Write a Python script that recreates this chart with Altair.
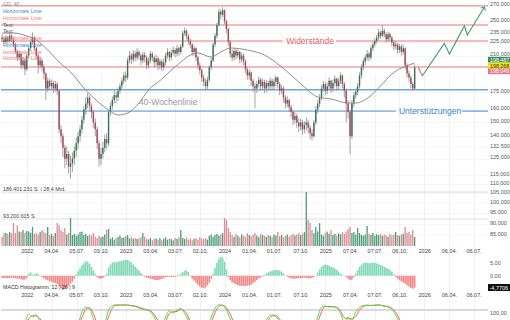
import altair as alt
import pandas as pd

FONT = "Liberation Sans"

# ---------------- weekly candles (first week 2021-10-04) ----------------
first_week = "2021-10-04"
opens = [230,228,225,230,226,232,228,222,215,208,
         212,200,205,196,210,218,225,230,218,210,
         200,205,198,192,178,185,180,183,178,182,
         176,145,140,132,125,128,120,122,125,130,
         135,140,145,152,160,165,170,163,158,150,
         145,135,125,128,132,138,135,158,163,168,
         172,170,176,180,185,190,188,205,210,206,
         212,208,214,210,205,211,208,200,205,212,
         208,203,207,200,204,198,203,210,214,208,
         213,216,212,218,214,220,235,238,232,226,
         222,214,218,208,200,195,188,184,180,186,
         198,205,222,232,245,262,258,264,250,240,
         225,212,208,215,210,214,206,210,204,196,
         190,193,185,180,178,182,186,180,184,178,
         183,180,185,180,184,188,182,176,178,170,
         165,168,162,158,152,155,150,147,150,145,
         148,150,146,142,140,150,160,165,170,178,
         182,176,180,185,178,183,187,180,185,190,
         182,176,165,158,140,165,172,175,180,190,
         198,204,208,212,208,218,222,226,230,236,
         232,238,234,228,234,230,224,220,222,216,
         220,214,218,200,192,188,182,178]
closes = [228,225,230,226,232,228,222,215,208,212,
          200,205,196,210,218,225,230,218,210,200,
          205,198,192,178,185,180,183,178,182,176,
          145,140,132,125,128,120,122,125,130,135,
          140,145,152,160,165,170,163,158,150,145,
          135,125,128,132,138,135,158,163,168,172,
          170,176,180,185,190,188,205,210,206,212,
          208,214,210,205,211,208,200,205,212,208,
          203,207,200,204,198,203,210,214,208,213,
          216,212,218,214,220,235,238,232,226,222,
          214,218,208,200,195,188,184,180,186,198,
          205,222,232,245,262,258,264,250,240,225,
          212,208,215,210,214,206,210,204,196,190,
          193,185,180,178,182,186,180,184,178,183,
          180,185,180,184,188,182,176,178,170,165,
          168,162,158,152,155,150,147,150,145,148,
          150,146,142,140,150,160,165,170,178,182,
          176,180,185,178,183,187,180,185,190,182,
          176,165,158,140,165,172,175,180,190,198,
          204,208,212,208,218,222,226,230,236,232,
          238,234,228,234,230,224,220,222,216,220,
          214,218,200,192,188,182,178,198]
highs = [234,231,233,232,236,234,230,224,217,215,
         213,208,207,212,221,229,236,232,220,212,
         209,207,201,193,188,187,186,185,185,184,
         177,148,142,134,133,130,127,129,133,139,
         143,148,155,163,170,174,172,165,160,153,
         147,137,132,136,141,142,160,166,171,176,
         175,179,183,188,193,194,208,215,213,216,
         215,218,216,212,214,214,210,208,215,214,
         210,211,209,207,206,207,213,218,215,217,
         220,218,222,220,223,238,242,240,234,229,
         224,221,219,210,203,197,191,187,189,200,
         208,224,235,248,266,265,268,265,252,242,
         227,216,218,217,217,215,213,212,206,198,
         196,194,187,183,185,189,188,187,186,186,
         185,188,187,187,190,189,184,181,180,172,
         171,169,164,160,158,157,153,153,152,151,
         154,152,148,145,152,163,168,173,181,185,
         184,183,188,186,186,190,188,188,193,191,
         184,178,168,160,168,175,178,183,193,201,
         207,211,216,214,221,225,229,233,240,238,
         245,241,236,237,236,232,227,226,224,223,
         222,222,219,202,195,190,184,201]
lows = [225,222,223,223,224,225,219,212,204,205,
        196,197,190,194,207,215,222,215,206,192,
        197,194,186,168,175,176,177,174,175,172,
        142,135,126,119,121,116,113,117,121,126,
        131,136,142,149,156,161,159,153,146,140,
        131,120,121,125,129,131,133,155,160,165,
        165,167,173,177,182,184,186,202,201,203,
        204,205,206,200,202,203,196,197,202,204,
        198,199,195,196,194,195,200,207,204,205,
        210,208,209,210,211,218,232,228,222,218,
        210,210,204,196,191,184,180,176,177,184,
        195,203,219,229,243,252,255,246,235,220,
        208,204,205,206,207,202,203,200,192,186,
        186,180,175,161,174,179,176,177,174,175,
        176,177,176,177,180,178,172,173,166,161,
        162,158,154,148,149,146,143,144,141,142,
        144,142,138,137,139,148,157,162,168,175,
        172,173,177,174,175,180,176,177,182,178,
        170,150,153,128,138,162,169,172,178,187,
        195,200,205,204,206,215,219,223,227,228,
        230,230,224,225,226,220,216,217,212,213,
        210,211,196,188,184,178,176,177]
# weekly volume in millions of shares
volumes = [31,45,45,42,48,44,79,45,72,50,
           48,55,45,52,50,46,66,42,45,40,
           48,55,50,45,66,38,42,35,45,79,
           72,55,48,62,40,45,97,38,42,35,
           40,48,50,38,42,35,40,36,45,32,
           28,35,30,33,40,55,59,25,30,22,
           28,32,35,28,30,34,38,26,30,25,
           28,24,27,30,45,32,25,22,28,20,
           24,26,22,28,20,25,30,22,26,24,
           20,28,25,30,55,28,24,30,22,26,
           20,25,28,22,30,26,24,28,22,35,
           40,32,38,42,36,40,45,97,90,62,
           48,38,32,42,35,30,40,36,32,44,
           38,34,40,45,36,30,42,38,35,32,
           38,35,30,40,36,48,34,38,30,35,
           40,32,38,42,36,40,45,38,42,48,
           186,90,79,55,45,66,50,79,40,35,
           45,50,42,55,38,42,35,44,40,48,
           42,50,59,66,45,48,40,62,45,38,
           35,40,69,42,38,45,35,40,38,42,
           35,40,38,32,42,36,40,48,38,35,
           40,42,66,45,48,40,55,31]
# MACD histogram (12 | 26 | 9)
macd = [-0.8,-0.9,-1.0,-1.0,-0.9,-0.8,-0.9,-1.1,-1.2,-1.1,
        -1.4,-1.6,-1.5,-0.8,0.8,1.3,0.3,0.6,0.9,0.7,
        0.2,-0.5,-0.9,-1.5,-1.8,-2.1,-2.5,-2.8,-3.0,-3.3,
        -4.2,-5.0,-5.7,-5.4,-4.8,-4.0,-3.2,-2.3,-1.2,0.6,
        1.8,3.0,4.2,5.0,5.8,5.6,4.8,3.6,2.2,0.8,
        -0.5,-1.1,-1.2,-0.9,-0.3,0.8,3.2,4.5,5.2,5.5,
        5.4,5.6,5.8,6.0,6.2,6.4,6.3,5.9,5.3,4.5,
        3.6,2.8,2.0,1.2,0.4,-0.4,-0.8,-1.0,-1.2,-1.4,
        -1.6,-1.7,-1.7,-1.5,-1.3,-0.9,-0.6,-0.5,-0.4,-0.5,
        -0.5,-0.4,-0.3,0.3,0.8,1.5,2.0,2.1,1.5,-0.3,
        -1.2,-2.0,-2.8,-3.6,-4.3,-4.8,-5.0,-4.7,-3.9,-2.8,
        -1.2,0.8,3.0,5.2,6.8,7.6,7.2,5.6,2.5,-0.5,
        -1.8,-2.6,-3.1,-3.5,-3.8,-4.0,-4.1,-4.1,-4.2,-4.0,
        -3.9,-3.6,-3.0,-2.4,-1.7,-1.1,-0.7,-0.3,0.4,0.9,
        1.3,1.7,2.0,2.2,2.3,2.3,2.1,1.6,0.9,0.2,
        -0.4,-0.8,-1.0,-1.1,-1.2,-1.1,-1.0,-1.0,-0.9,-0.8,
        -0.9,-1.0,-1.1,-0.9,-0.5,0.2,1.2,2.5,3.6,4.2,
        4.5,4.3,4.0,3.6,3.3,2.9,2.4,1.6,0.8,0.3,
        0.1,-0.5,-1.2,-1.7,-1.5,-0.6,0.8,2.2,3.5,4.4,
        5.0,5.3,5.2,5.0,5.1,5.3,5.2,4.9,4.6,4.3,
        4.0,3.6,3.2,2.8,2.4,1.6,0.6,-0.5,-1.2,-1.8,
        -2.3,-2.7,-3.2,-3.8,-4.3,-4.9,-5.2,-4.77]
# stochastic lines, every second week
stoch_k = [40,35,30,30,25,30,45,68,60,66,
           45,30,20,15,12,10,12,15,20,30,
           40,75,88,84,55,30,20,40,80,92,
           95,94,95,94,92,90,86,82,80,75,
           60,40,35,60,78,72,80,84,70,50,
           25,15,10,15,30,60,85,95,93,80,
           55,30,20,15,12,10,12,15,20,40,
           60,66,62,45,30,20,15,12,10,12,
           15,20,30,60,88,92,88,90,86,70,
           45,60,50,75,88,93,94,93,94,95,
           92,90,86,75,55,30,20,15,20]
stoch_d = [42,38,33,30,28,28,38,55,64,63,
           55,38,25,18,14,12,11,13,17,25,
           35,58,82,86,70,42,25,30,60,86,
           93,94,94,94,93,91,88,84,81,78,
           68,50,37,48,70,75,76,82,77,60,
           38,20,12,12,22,45,72,90,94,86,
           68,42,25,18,14,11,11,13,17,30,
           50,63,64,54,38,25,18,14,11,11,
           13,17,25,45,75,90,90,89,88,78,
           58,55,55,62,80,90,93,93,93,94,
           93,91,88,80,65,42,25,18,17]
# 40-week moving average, read at selected weeks
ma_weeks = [0,6,13,18,24,30,36,43,50,56,61,66,72,77,84,89,94,99,103,110,
            115,120,129,138,147,152,159,166,173,182,186,193,199,205,210,214,217]
ma_values = [235.3,235.3,231.8,227.2,216,203.3,193.4,178.4,167.1,159.7,
             155.7,157.2,165.4,176.6,186.6,195.3,203.3,210.6,212.8,208.5,
             213.8,218.2,216,210.6,198.3,190.4,179.3,170.5,168.8,165.4,
             165.4,170.5,180.2,191.4,197.3,200.3,202.3]

# horizontal lines
full_levels = [270, 245, 198.3, 176.9]
full_colors = ["#f4a3a3", "#f4a3a3", "#f4a3a3", "#6ea6e3"]
seg_levels = [226, 226, 158.8, 158.8]
seg_start = ["2021-09-30", "2025-02-14", "2021-09-30", "2026-05-25"]
seg_end = ["2024-08-02", "2026-08-28", "2025-09-23", "2026-08-28"]
seg_colors = ["#f4a3a3", "#f4a3a3", "#6ea6e3", "#6ea6e3"]

# forecast arrow
arrow_red_dates = ["2025-12-14", "2025-12-29"]
arrow_red_vals = [198.3, 189.5]
arrow_green_dates = ["2025-12-29", "2026-03-20", "2026-04-08", "2026-06-02", "2026-06-13", "2026-08-15"]
arrow_green_vals = [189.5, 223.4, 211.7, 243.8, 233.0, 268.2]

price_ticks = [270, 250, 235, 225, 210, 175, 160, 150, 140, 132.5, 125, 115, 110, 105, 100, 95, 90, 85]
tick_dates = [(2022, 1, 3), (2022, 4, 4), (2022, 7, 5), (2022, 10, 3), (2023, 1, 2), (2023, 4, 3),
              (2023, 7, 3), (2023, 10, 2), (2024, 1, 1), (2024, 4, 1), (2024, 7, 1), (2024, 10, 7),
              (2025, 1, 6), (2025, 4, 7), (2025, 7, 7), (2025, 10, 6), (2026, 1, 5), (2026, 4, 6),
              (2026, 7, 6)]

legend_labels = ["GD: 40", "Horizontale Linie", "Horizontale Linie", "Text:", "Text:",
                 "Horizontale Linie", "Horizontale Linie", "Horizontale Linie", "Horizontale Linie"]
legend_colors = ["#8c8c8c", "#3f88d8", "#f07d7d", "#555555", "#555555",
                 "#f07d7d", "#3f88d8", "#f07d7d", "#f07d7d"]

# ---------------- tables ----------------
n = len(closes)
dates = pd.date_range(first_week, periods=n, freq="7D").strftime("%Y-%m-%d").tolist()
candles = pd.DataFrame({"date": dates, "open": opens, "high": highs, "low": lows,
                        "close": closes, "vol": volumes, "macd": macd})
up = [c >= o for o, c in zip(opens, closes)]
candles["body_col"] = ["#35725a" if u else "#a8435a" for u in up]
candles["vol_col"] = ["#4d9b7b" if u else "#da8d96" for u in up]
candles["macd_col"] = ["#7fd8b6" if m >= 0 else "#f38686" for m in macd]

ma_df = pd.DataFrame({"date": [dates[i] for i in ma_weeks], "ma": ma_values})
stoch_df = pd.DataFrame({"date": dates[::2], "k": stoch_k, "d": stoch_d})
full_df = pd.DataFrame({"v": full_levels, "c": full_colors})
seg_df = pd.DataFrame({"v": seg_levels, "x1": seg_start, "x2": seg_end, "c": seg_colors})
red_df = pd.DataFrame({"date": arrow_red_dates, "v": arrow_red_vals})
green_df = pd.DataFrame({"date": arrow_green_dates, "v": arrow_green_vals})
tip_df = green_df.tail(1)
legend_df = pd.DataFrame({"row": list(range(len(legend_labels))), "t": legend_labels, "c": legend_colors})

# ---------------- scales & axes ----------------
X_DOMAIN = [alt.DateTime(year=2021, month=9, date=30, utc=True),
            alt.DateTime(year=2026, month=8, date=28, utc=True)]
xs = alt.Scale(domain=X_DOMAIN, nice=False, padding=0)
price_scale = alt.Scale(type="log", domain=[80.5, 277.9], range=[246, 0], nice=False)
vol_scale = alt.Scale(domain=[0, 186.4], range=[246, 192], nice=False, zero=True)
macd_scale = alt.Scale(domain=[-5, 5], range=[288.2, 263.2], nice=False, zero=False)
stoch_scale = alt.Scale(domain=[0, 100], range=[338, 303], nice=False, zero=False)
legend_scale = alt.Scale(domain=[0, 8], range=[4.3, 58.3], nice=False, zero=False)

lab_expr = ("utcFormat(datum.value, '%m') == '01' ? utcFormat(datum.value, '%Y') "
            ": utcFormat(datum.value, '%d.%m.')")
tick_vals = [alt.DateTime(year=y, month=m, date=d, utc=True) for y, m, d in tick_dates]


def x_axis(offset, grid):
    return alt.Axis(values=tick_vals, labelExpr=lab_expr, orient="bottom", offset=offset,
                    ticks=False, domain=False, grid=grid, gridColor="#eeeeee", gridWidth=0.8,
                    labelFontSize=5.5, labelColor="#444444", labelPadding=2, labelOverlap=False,
                    labelFlush=False, title=None, labelFont=FONT)


price_axis = alt.Axis(orient="right", values=price_ticks,
                      labelExpr="replace(format(datum.value, '.3f'), '.', ',')",
                      ticks=False, domain=False, grid=True, gridColor="#f3f3f3", gridWidth=0.8,
                      labelFontSize=5.5, labelColor="#555555", labelPadding=1.5, labelOffset=-1.8,
                      labelOverlap=False, labelFlush=False, title=None, labelFont=FONT)

XN = alt.X("date:T", scale=xs, axis=None)
layers = []

# volume
base = alt.Chart(candles)
layers.append(alt.Chart(pd.DataFrame({"v": [186.4, 93.2]})).mark_rule(color="#dedede", strokeWidth=1).encode(
    y=alt.Y("v:Q", scale=vol_scale, axis=None)))
layers.append(base.mark_bar(size=1.3).encode(
    x=XN, y=alt.Y("vol:Q", scale=vol_scale, axis=None),
    color=alt.Color("vol_col:N", scale=None)))
layers.append(alt.Chart(pd.DataFrame({"v": [186.4, 93.2],
                                      "t": ["186.401.231 S. / 28,4 Mrd.", "93.200.615 S."]})).mark_text(
    align="left", baseline="bottom", dy=-0.5, fontSize=5.3, font=FONT, color="#444444").encode(
    x=alt.value(2), y=alt.Y("v:Q", scale=vol_scale, axis=None), text="t:N"))

# horizontal lines
layers.append(alt.Chart(full_df).mark_rule(strokeWidth=1.4).encode(
    y=alt.Y("v:Q", scale=price_scale, axis=None), color=alt.Color("c:N", scale=None)))
layers.append(alt.Chart(seg_df).mark_rule(strokeWidth=1.4).encode(
    x=alt.X("x1:T", scale=xs, axis=None), x2="x2:T",
    y=alt.Y("v:Q", scale=price_scale, axis=None), color=alt.Color("c:N", scale=None)))

# candles
layers.append(base.mark_rule(color="#8a8a8a", strokeWidth=0.8).encode(
    x=XN, y=alt.Y("low:Q", scale=price_scale, axis=None), y2="high:Q"))
layers.append(base.mark_bar(size=1.4).encode(
    x=alt.X("date:T", scale=xs, axis=x_axis(-74, True)),
    y=alt.Y("open:Q", scale=price_scale, axis=price_axis), y2="close:Q",
    color=alt.Color("body_col:N", scale=None)))

# 40-week line
layers.append(alt.Chart(ma_df).mark_line(color="#8e8e8e", strokeWidth=1, interpolate="monotone").encode(
    x=XN, y=alt.Y("ma:Q", scale=price_scale, axis=None)))

# annotations in the price panel
ann = pd.DataFrame({"date": ["2024-11-11", "2025-10-04", "2023-02-20"],
                    "v": [226, 158.8, 166.5],
                    "t": ["Widerstände", "Unterstützungen", "40-Wochenlinie"],
                    "c": ["#e85a5c", "#3d85d6", "#999999"],
                    "a": ["center", "left", "left"]})
for i in range(3):
    layers.append(alt.Chart(ann.iloc[[i]]).mark_text(
        align=ann["a"][i], baseline="middle", fontSize=8.5, font=FONT, color=ann["c"][i]).encode(
        x=XN, y=alt.Y("v:Q", scale=price_scale, axis=None), text="t:N"))

# forecast arrow
layers.append(alt.Chart(red_df).mark_line(color="#e46b6b", strokeWidth=1.1).encode(
    x=XN, y=alt.Y("v:Q", scale=price_scale, axis=None)))
layers.append(alt.Chart(green_df).mark_line(color="#3f9c6f", strokeWidth=1.1).encode(
    x=XN, y=alt.Y("v:Q", scale=price_scale, axis=None)))
layers.append(alt.Chart(tip_df).mark_point(shape="M -1 1 L 0 0 L 1 1", filled=False, size=28,
                                           angle=31, strokeWidth=1.1, color="#3f9c6f", opacity=1).encode(
    x=XN, y=alt.Y("v:Q", scale=price_scale, axis=None)))

# legend-like labels top-left
layers.append(alt.Chart(legend_df).mark_text(align="left", baseline="middle", fontSize=5.2, font=FONT).encode(
    x=alt.value(2), y=alt.Y("row:Q", scale=legend_scale, axis=None), text="t:N",
    color=alt.Color("c:N", scale=None)))

# price badges
badges = [("198,487", "#3e8e63", "#ffffff", 56.8, 62.6), ("198,268", "#f1e40f", "#333333", 62.6, 68.4),
          ("198,049", "#e27a86", "#ffffff", 68.4, 74.2)]
for txt, bg, fg, y0, y1 in badges:
    bdf = pd.DataFrame({"t": [txt]})
    layers.append(alt.Chart(bdf).mark_rect(color=bg).encode(
        x=alt.value(487), x2=alt.value(509), y=alt.value(y0), y2=alt.value(y1)))
    layers.append(alt.Chart(bdf).mark_text(align="left", baseline="middle", fontSize=5.3, font=FONT,
                                           color=fg).encode(
        x=alt.value(489), y=alt.value((y0 + y1) / 2), text="t:N"))

# MACD panel
layers.append(base.mark_bar(size=1.6).encode(
    x=alt.X("date:T", scale=xs, axis=x_axis(-30, False)),
    y=alt.Y("macd:Q", scale=macd_scale, axis=None), y2=alt.datum(0),
    color=alt.Color("macd_col:N", scale=None)))
layers.append(alt.Chart(pd.DataFrame({"v": [5, 0], "t": ["5,00", "0,00"]})).mark_text(
    align="left", baseline="middle", fontSize=5.5, font=FONT, color="#555555").encode(
    x=alt.value(489), y=alt.Y("v:Q", scale=macd_scale, axis=None), text="t:N"))
mdf = pd.DataFrame({"t": ["-4,7706"]})
layers.append(alt.Chart(mdf).mark_rect(color="#111111").encode(
    x=alt.value(487), x2=alt.value(509), y=alt.value(284), y2=alt.value(291)))
layers.append(alt.Chart(mdf).mark_text(align="left", baseline="middle", fontSize=5.5, font=FONT,
                                       color="#ffffff").encode(
    x=alt.value(488.5), y=alt.value(287.5), text="t:N"))
layers.append(alt.Chart(pd.DataFrame({"t": ["MACD Histogramm: 12 | 26 | 9"]})).mark_text(
    align="left", baseline="middle", fontSize=5.3, font=FONT, color="#333333").encode(
    x=alt.value(2), y=alt.value(287), text="t:N"))

# stochastic panel (cut at the bottom)
layers.append(alt.Chart(pd.DataFrame({"v": [80]})).mark_rule(color="#dadada", strokeWidth=2).encode(
    y=alt.Y("v:Q", scale=stoch_scale, axis=None)))
layers.append(alt.Chart(stoch_df).mark_line(color="#ff5c5c", strokeWidth=1, clip=True,
                                            interpolate="monotone").encode(
    x=XN, y=alt.Y("d:Q", scale=stoch_scale, axis=None)))
layers.append(alt.Chart(stoch_df).mark_line(color="#4be04b", strokeWidth=1, clip=True,
                                            interpolate="monotone").encode(
    x=XN, y=alt.Y("k:Q", scale=stoch_scale, axis=None)))
layers.append(alt.Chart(pd.DataFrame({"t": ["100,00"]})).mark_text(
    align="left", baseline="middle", fontSize=5.5, font=FONT, color="#555555").encode(
    x=alt.value(489), y=alt.value(312.5), text="t:N"))

chart = alt.layer(*layers).resolve_scale(y="independent").resolve_axis(
    x="independent", y="independent").properties(
    width=487, height=320, padding=0, background="white").configure_view(stroke=None)

chart.save("out.html", embed_options={"renderer": "svg", "actions": False})
